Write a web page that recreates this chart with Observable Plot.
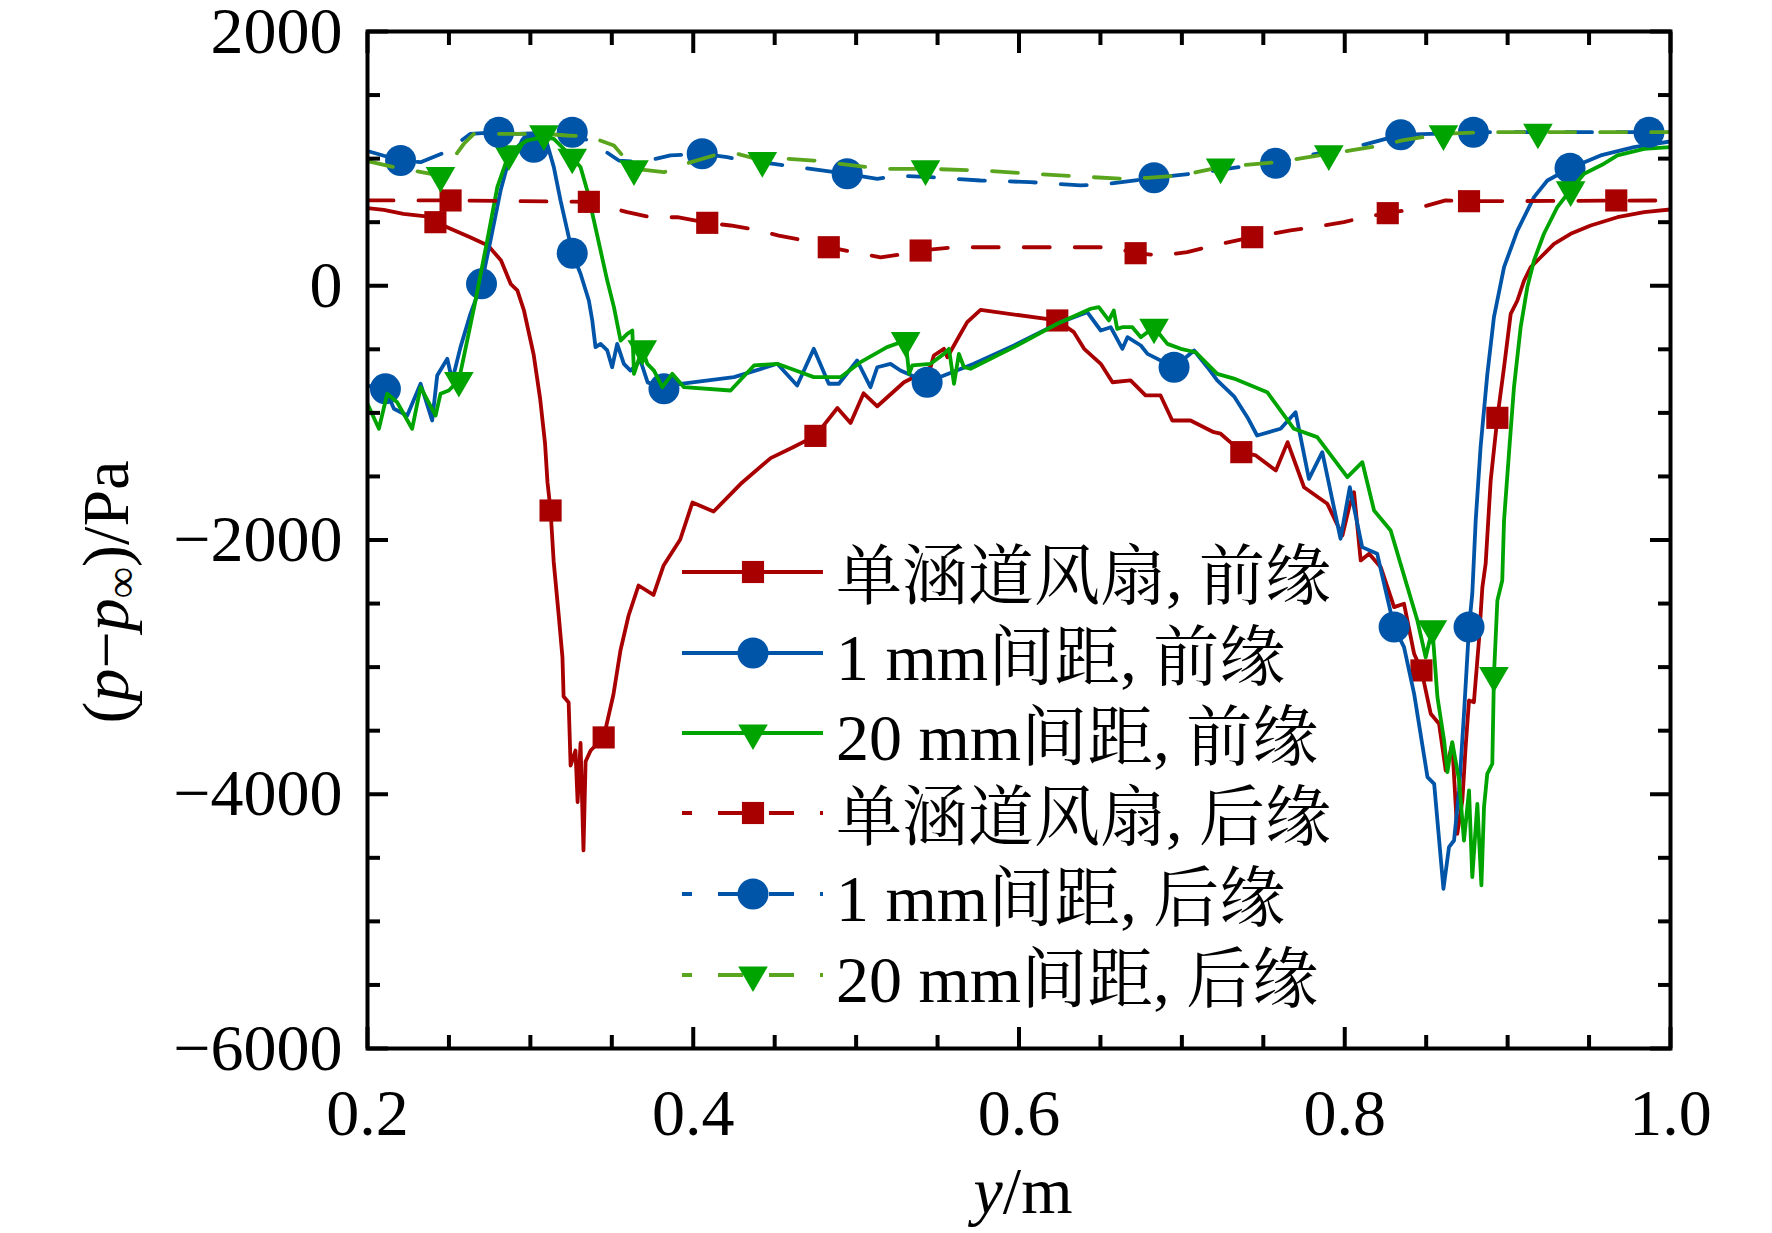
<!DOCTYPE html>
<html><head><meta charset="utf-8">
<script src="https://cdn.jsdelivr.net/npm/d3@7"></script>
<script src="https://cdn.jsdelivr.net/npm/@observablehq/plot@0.6"></script>
<style>body{margin:0;background:#fff}</style>
</head><body><div id="chart"></div>
<script>
const xMajor = [0.2, 0.4, 0.6, 0.8, 1.0];
const xMinor = [0.25, 0.3, 0.35, 0.45, 0.5, 0.55, 0.65, 0.7, 0.75, 0.85, 0.9, 0.95];
const yMajor = [-6000, -4000, -2000, 0, 2000];
const yMinor = [-5500, -5000, -4500, -3500, -3000, -2500, -1500, -1000, -500, 500, 1000, 1500];

const seriesNames = ["单涵道风扇, 前缘", "1 mm间距, 前缘", "20 mm间距, 前缘", "单涵道风扇, 后缘", "1 mm间距, 后缘", "20 mm间距, 后缘"];

// 单涵道风扇, 前缘
const singleLE = [[0.200,610],[0.210,597],[0.222,566],[0.236,545],[0.242,500],[0.251,448],[0.263,382],[0.274,317],[0.282,199],[0.288,12],[0.292,-37],[0.296,-191],[0.302,-541],[0.306,-890],[0.309,-1239],[0.3105,-1545],[0.3124,-1768],[0.3143,-2169],[0.3173,-2578],[0.3197,-2924],[0.3204,-3231],[0.3235,-3278],[0.3247,-3774],[0.3277,-3656],[0.329,-4062],[0.3308,-3597],[0.3326,-4442],[0.3339,-3742],[0.337,-3656],[0.345,-3553],[0.351,-3215],[0.3553,-2869],[0.3603,-2594],[0.3664,-2358],[0.3756,-2432],[0.3818,-2200],[0.392,-1996],[0.3995,-1705],[0.4125,-1776],[0.429,-1560],[0.4475,-1356],[0.4616,-1268],[0.475,-1181],[0.4885,-962],[0.4966,-1079],[0.5046,-846],[0.513,-948],[0.5294,-759],[0.5375,-706],[0.5457,-641],[0.5477,-549],[0.5539,-496],[0.556,-562],[0.5641,-378],[0.5682,-286],[0.5764,-190],[0.6235,-273],[0.6337,-365],[0.640,-496],[0.6502,-614],[0.6574,-759],[0.6685,-745],[0.6777,-863],[0.6869,-863],[0.6941,-1060],[0.7053,-1060],[0.7196,-1152],[0.7238,-1164],[0.732,-1256],[0.7365,-1309],[0.7454,-1335],[0.7577,-1453],[0.7649,-1230],[0.775,-1585],[0.7893,-1715],[0.7986,-1964],[0.8027,-1742],[0.8057,-1624],[0.8098,-2161],[0.815,-2108],[0.8221,-2214],[0.8303,-2528],[0.8364,-2502],[0.8426,-2895],[0.8471,-3026],[0.8528,-3367],[0.8579,-3446],[0.862,-3813],[0.866,-3603],[0.8691,-4311],[0.8722,-4049],[0.8742,-3630],[0.8763,-3262],[0.8793,-3276],[0.8824,-2790],[0.8845,-2371],[0.8865,-2187],[0.8896,-1532],[0.8937,-1039],[0.8978,-641],[0.9019,-221],[0.906,-116],[0.9101,41],[0.9142,146],[0.9203,224],[0.9285,330],[0.9387,409],[0.951,474],[0.9674,539],[0.9838,579],[1.0,600]];
const singleLEMarks = [[0.2417,500],[0.3124,-1768],[0.345,-3553],[0.475,-1181],[0.6235,-273],[0.7365,-1309],[0.8471,-3026],[0.8937,-1039]];

// 1 mm间距, 前缘
const gap1LE = [[0.200,-785],[0.211,-811],[0.2162,-968],[0.2244,-1021],[0.2326,-771],[0.2397,-1060],[0.2428,-706],[0.249,-575],[0.252,-745],[0.2571,-483],[0.2632,-221],[0.270,15],[0.2755,356],[0.2817,749],[0.2878,1038],[0.2939,1117],[0.3021,1090],[0.3103,1117],[0.3144,933],[0.3185,671],[0.3236,382],[0.3257,256],[0.3308,94],[0.3359,-116],[0.338,-273],[0.340,-483],[0.3431,-457],[0.3472,-509],[0.3502,-641],[0.3533,-457],[0.3574,-614],[0.3615,-667],[0.3676,-588],[0.3720,-760],[0.382,-811],[0.3922,-771],[0.425,-719],[0.4516,-614],[0.4638,-785],[0.474,-496],[0.4832,-771],[0.4894,-771],[0.5006,-588],[0.5088,-798],[0.513,-641],[0.5211,-614],[0.5272,-667],[0.5436,-759],[0.5539,-706],[0.5723,-614],[0.5969,-470],[0.6255,-286],[0.6419,-208],[0.6502,-352],[0.6563,-326],[0.6635,-496],[0.6666,-405],[0.6748,-470],[0.6789,-536],[0.6952,-641],[0.7075,-509],[0.7157,-641],[0.7217,-745],[0.732,-870],[0.7402,-1034],[0.7462,-1178],[0.7606,-1125],[0.7698,-995],[0.778,-1519],[0.7862,-1309],[0.7974,-1990],[0.8031,-1585],[0.8107,-2056],[0.8199,-2108],[0.8303,-2685],[0.8364,-2843],[0.8426,-3210],[0.8508,-3865],[0.8549,-3918],[0.8606,-4744],[0.864,-4416],[0.8671,-4364],[0.8702,-3970],[0.8732,-3367],[0.8763,-2685],[0.8783,-2423],[0.8804,-1846],[0.8834,-1270],[0.8875,-700],[0.8916,-247],[0.8978,146],[0.906,434],[0.9162,697],[0.9244,828],[0.9383,925],[0.9571,1025],[0.9776,1090],[1.0,1135]];
const gap1LEMarks = [[0.211,-811],[0.270,15],[0.3021,1090],[0.3257,256],[0.382,-811],[0.5436,-759],[0.6952,-641],[0.8303,-2685],[0.8763,-2685],[0.9383,925]];

// 20 mm间距, 前缘
const gap20LE = [[0.200,-929],[0.207,-1125],[0.2121,-850],[0.2182,-916],[0.2274,-1125],[0.2326,-798],[0.2418,-1021],[0.2448,-850],[0.2499,-824],[0.2561,-745],[0.2612,-431],[0.2663,-116],[0.2735,356],[0.2797,775],[0.2868,1038],[0.2919,1090],[0.298,1143],[0.3083,1170],[0.3144,1156],[0.3257,1011],[0.3308,933],[0.3349,749],[0.339,513],[0.3431,277],[0.3472,41],[0.3513,-168],[0.3554,-431],[0.3595,-378],[0.3626,-352],[0.3636,-693],[0.3687,-496],[0.3718,-614],[0.3759,-667],[0.381,-798],[0.3871,-693],[0.3943,-798],[0.4229,-824],[0.4373,-627],[0.4516,-614],[0.4659,-680],[0.474,-719],[0.4904,-719],[0.5027,-601],[0.519,-483],[0.5304,-431],[0.5325,-693],[0.5345,-627],[0.5457,-614],[0.5539,-536],[0.557,-496],[0.5601,-771],[0.5631,-536],[0.5662,-641],[0.5703,-653],[0.5969,-483],[0.6235,-299],[0.644,-181],[0.649,-168],[0.6552,-273],[0.6582,-195],[0.6603,-339],[0.6634,-326],[0.6696,-326],[0.6748,-405],[0.6829,-326],[0.6911,-457],[0.6993,-496],[0.7085,-523],[0.7217,-693],[0.732,-730],[0.7524,-837],[0.7688,-1125],[0.7831,-1191],[0.8016,-1506],[0.8108,-1388],[0.818,-1768],[0.8282,-1925],[0.8385,-2371],[0.8446,-2633],[0.8497,-2922],[0.8538,-2698],[0.8569,-3236],[0.861,-3577],[0.863,-3826],[0.866,-3590],[0.8702,-3892],[0.8732,-4364],[0.8763,-3970],[0.8783,-4652],[0.8814,-4075],[0.8839,-4717],[0.8855,-4101],[0.8875,-3839],[0.8906,-3760],[0.8916,-3066],[0.8937,-2476],[0.8967,-2318],[0.8978,-1846],[0.9008,-1322],[0.9039,-798],[0.908,-326],[0.9121,-11],[0.9162,199],[0.9223,409],[0.9305,618],[0.9387,755],[0.9469,881],[0.9592,960],[0.9674,1025],[0.9838,1077],[1.0,1090]];
const gap20LEMarks = [[0.2561,-745],[0.2868,1038],[0.3257,1011],[0.3687,-496],[0.5304,-431],[0.6829,-326],[0.8538,-2698],[0.8916,-3066],[0.9387,755]];

// 单涵道风扇, 后缘
const singleTE = [[0.200,671],[0.251,671],[0.3359,660],[0.3595,579],[0.3738,539],[0.3902,539],[0.4086,495],[0.4229,474],[0.4352,448],[0.4525,395],[0.4679,356],[0.4832,303],[0.4986,264],[0.515,224],[0.5304,251],[0.5396,277],[0.56,303],[0.6563,303],[0.6716,256],[0.6869,238],[0.7033,264],[0.7196,317],[0.7432,382],[0.7667,435],[0.7831,466],[0.7994,500],[0.8117,539],[0.8264,571],[0.8434,605],[0.8619,671],[0.8763,665],[1.0,671]];
const singleTEMarks = [[0.251,671],[0.3359,660],[0.4086,495],[0.4832,303],[0.5396,277],[0.6716,256],[0.7432,382],[0.8264,571],[0.8763,665],[0.9667,671]];

// 1 mm间距, 后缘
const gap1TE = [[0.200,1060],[0.2203,985],[0.2326,972],[0.2479,1051],[0.2632,1195],[0.2806,1208],[0.2919,1195],[0.3257,1208],[0.339,1117],[0.3543,985],[0.3676,972],[0.386,1025],[0.4055,1038],[0.4209,1011],[0.4311,985],[0.4495,959],[0.4638,933],[0.4945,881],[0.513,841],[0.5252,867],[0.5457,854],[0.5764,828],[0.6071,815],[0.6378,789],[0.6522,797],[0.6829,849],[0.7136,893],[0.7483,959],[0.7575,964],[0.777,1025],[0.8098,1103],[0.8344,1187],[0.8528,1195],[0.879,1208],[0.906,1208],[1.0,1208]];
const gap1TEMarks = [[0.2203,985],[0.2806,1208],[0.3257,1208],[0.4055,1038],[0.4945,881],[0.6829,849],[0.7575,964],[0.8344,1187],[0.879,1208],[0.9868,1208]];

// 20 mm间距, 后缘
const gap20TE = [[0.200,980],[0.2162,933],[0.2448,867],[0.2592,1117],[0.2653,1195],[0.2878,1195],[0.3083,1195],[0.3226,1182],[0.3359,1174],[0.3513,1103],[0.3636,920],[0.382,893],[0.3953,959],[0.4127,1025],[0.427,1038],[0.4424,985],[0.4577,999],[0.474,985],[0.4904,959],[0.515,920],[0.5426,920],[0.5764,907],[0.6071,881],[0.6378,859],[0.6644,841],[0.6788,849],[0.6993,867],[0.7238,933],[0.7585,972],[0.7902,1038],[0.8036,1064],[0.8221,1103],[0.8354,1143],[0.8606,1195],[0.8855,1208],[0.9186,1208],[1.0,1208]];
const gap20TEMarks = [[0.2448,867],[0.3083,1195],[0.3636,920],[0.4424,985],[0.5426,920],[0.7238,933],[0.7902,1038],[0.8606,1195],[0.9186,1208]];

const RED = "#a80000", BLUE = "#0055a8", GREEN = "#00a400", GREEN_D = "#5aa51e";
const DASH = "26,25";
const serif = "'Liberation Serif','Times New Roman',serif";
const cjk = "'Liberation Serif','Noto Serif CJK SC','Noto Sans CJK SC',serif";

const X = d => d[0], Y = d => d[1];
const sq = {symbol: "square", r: 12.5};
const ci = {symbol: "circle", r: 15.5};
const tr = {symbol: "triangle", r: 11, rotate: 180};

const styles = [
  {data: singleLE, marks: singleLEMarks, stroke: RED, fill: RED, dash: null, sym: sq},
  {data: gap1LE, marks: gap1LEMarks, stroke: BLUE, fill: BLUE, dash: null, sym: ci},
  {data: gap20LE, marks: gap20LEMarks, stroke: GREEN, fill: GREEN, dash: null, sym: tr},
  {data: singleTE, marks: singleTEMarks, stroke: RED, fill: RED, dash: DASH, sym: sq},
  {data: gap1TE, marks: gap1TEMarks, stroke: BLUE, fill: BLUE, dash: DASH, sym: ci},
  {data: gap20TE, marks: gap20TEMarks, stroke: GREEN_D, fill: GREEN, dash: DASH, sym: tr}
];

const seriesMarks = [];
for (const s of styles) {
  seriesMarks.push(Plot.line(s.data, {x: X, y: Y, stroke: s.stroke, strokeWidth: 3.8, strokeDasharray: s.dash, clip: true}));
  seriesMarks.push(Plot.dot(s.marks, {x: X, y: Y, fill: s.fill, stroke: "none", ...s.sym, clip: true}));
}

const W = 1772, H = 1233;
const tk = {tickFormat: () => "", label: null, strokeWidth: 4};
const chart = Plot.plot({
  width: W, height: H,
  marginLeft: 367, marginRight: 102, marginTop: 31, marginBottom: 185,
  style: {fontFamily: serif, background: "#fff", color: "#000", overflow: "visible"},
  x: {domain: [0.2, 1.0]},
  y: {domain: [-6000, 2000]},
  marks: [
    ...seriesMarks,
    Plot.axisX(xMajor, {anchor: "bottom", tickSize: 0, tickPadding: 40, tickFormat: d => d.toFixed(1), fontSize: 66, fontFamily: serif, label: null, fill: "#000"}),
    Plot.axisY(yMajor, {anchor: "left", tickSize: 0, tickPadding: 25, tickFormat: d => d < 0 ? "\u2212" + Math.abs(d) : String(d), fontSize: 66, fontFamily: serif, label: null, fill: "#000"}),
    Plot.axisX(xMajor, {anchor: "bottom", tickSize: -21, ...tk}),
    Plot.axisX(xMinor, {anchor: "bottom", tickSize: -13, ...tk}),
    Plot.axisX(xMajor, {anchor: "top", tickSize: -21, ...tk}),
    Plot.axisX(xMinor, {anchor: "top", tickSize: -13, ...tk}),
    Plot.axisY(yMajor, {anchor: "left", tickSize: -21, ...tk}),
    Plot.axisY(yMinor, {anchor: "left", tickSize: -13, ...tk}),
    Plot.axisY(yMajor, {anchor: "right", tickSize: -21, ...tk}),
    Plot.axisY(yMinor, {anchor: "right", tickSize: -13, ...tk}),
    Plot.frame({stroke: "#000", strokeWidth: 4})
  ]
});
document.getElementById("chart").appendChild(chart);

// axis titles and legend
const svg = d3.select(chart);
const yl = svg.append("text")
  .attr("transform", "translate(128,592) rotate(-90)")
  .attr("text-anchor", "middle")
  .style("font-family", serif).style("font-size", "66px").attr("fill", "#000");
yl.append("tspan").text("(");
yl.append("tspan").attr("font-style", "italic").text("p");
yl.append("tspan").text("\u2212");
yl.append("tspan").attr("font-style", "italic").text("p");
yl.append("tspan").attr("font-size", "44px").attr("dy", "8").text("\u221e");
yl.append("tspan").attr("dy", "-8").text(")/Pa");

const xl = svg.append("text")
  .attr("x", 1023).attr("y", 1213).attr("text-anchor", "middle")
  .style("font-family", serif).style("font-size", "66px").attr("fill", "#000");
xl.append("tspan").attr("font-style", "italic").text("y");
xl.append("tspan").text("/m");

const rowY = [572, 653, 733, 813, 894, 975];
const lg = svg.append("g").attr("text-anchor", "start");
styles.forEach((s, i) => {
  const y = rowY[i];
  lg.append("line").attr("x1", 682).attr("x2", 823).attr("y1", y).attr("y2", y)
    .attr("stroke", s.stroke).attr("stroke-width", 3.8)
    .attr("stroke-dasharray", s.dash ? "25,26" : null)
    .attr("stroke-dashoffset", s.dash ? 15 : null);
  const sym = s.sym.symbol === "square" ? d3.symbolSquare : s.sym.symbol === "circle" ? d3.symbolCircle : d3.symbolTriangle;
  const size = Math.PI * s.sym.r * s.sym.r;
  lg.append("path").attr("d", d3.symbol(sym, size)())
    .attr("transform", `translate(753,${y})` + (s.sym.rotate ? ` rotate(${s.sym.rotate})` : ""))
    .attr("fill", s.fill);
  lg.append("text").attr("x", 836).attr("y", y + 27).attr("text-anchor", "start")
    .style("font-family", cjk).style("font-size", "66px").attr("fill", "#000")
    .text(seriesNames[i]);
});
</script>
</body></html>
